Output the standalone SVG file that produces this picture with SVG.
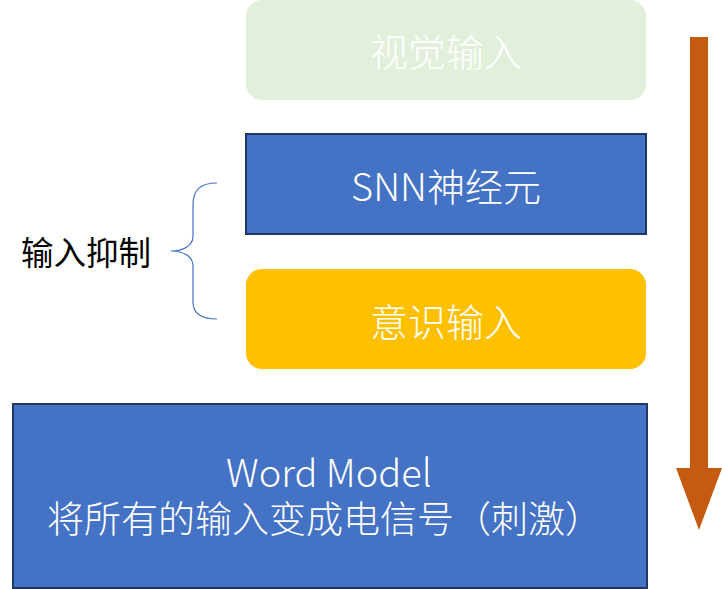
<svg xmlns="http://www.w3.org/2000/svg" width="722" height="589" viewBox="0 0 722 589">
<style>
.t{font-family:"Noto Sans CJK SC","Noto Sans",sans-serif;fill:#fff;text-anchor:middle;dominant-baseline:central;font-size:38px;font-weight:300}
.b{font-family:"Noto Sans CJK SC","Noto Sans",sans-serif;fill:#fff;font-size:37px;font-weight:300}
.blue{fill:#4472C4;stroke:#1F3864;stroke-width:2}
</style>
<rect width="722" height="589" fill="#fff"/>
<g id="visual">
<rect x="246" y="0" width="400" height="100" rx="16" fill="#E2EFDA"/>
<text class="t" x="446" y="49">视觉输入</text>
</g>
<g id="snn">
<rect class="blue" x="246" y="134" width="400" height="100"/>
<text class="t" x="446" y="184">SNN神经元</text>
</g>
<g id="conscious">
<rect x="246" y="269" width="400" height="100" rx="16" fill="#FFC000"/>
<text class="t" x="446" y="319">意识输入</text>
</g>
<g id="word">
<rect class="blue" x="13" y="404" width="634" height="184"/>
<text class="b"><tspan x="329" y="487" text-anchor="middle" font-size="38">Word Model</tspan><tspan x="47" y="533">将所有的输入变成电信号（刺激）</tspan></text>
</g>
<g id="inhibit">
<text x="86" y="250" font-family="'Noto Sans CJK SC',sans-serif" font-size="32.5" fill="#000" text-anchor="middle" dominant-baseline="central">输入抑制</text>
</g>
<g id="connectors">
<path d="M217,183 C200,183 193,190 193,205 L193,236 C193,246 183,251 171,251 C183,251 193,256 193,266 L193,302 C193,313 200,319 217,319" fill="none" stroke="#4472C4" stroke-width="1.2"/>
<polygon points="690,37 708,37 708,468 722,468 699,530 676,468 690,468" fill="#C55A11"/>
</g>
</svg>
